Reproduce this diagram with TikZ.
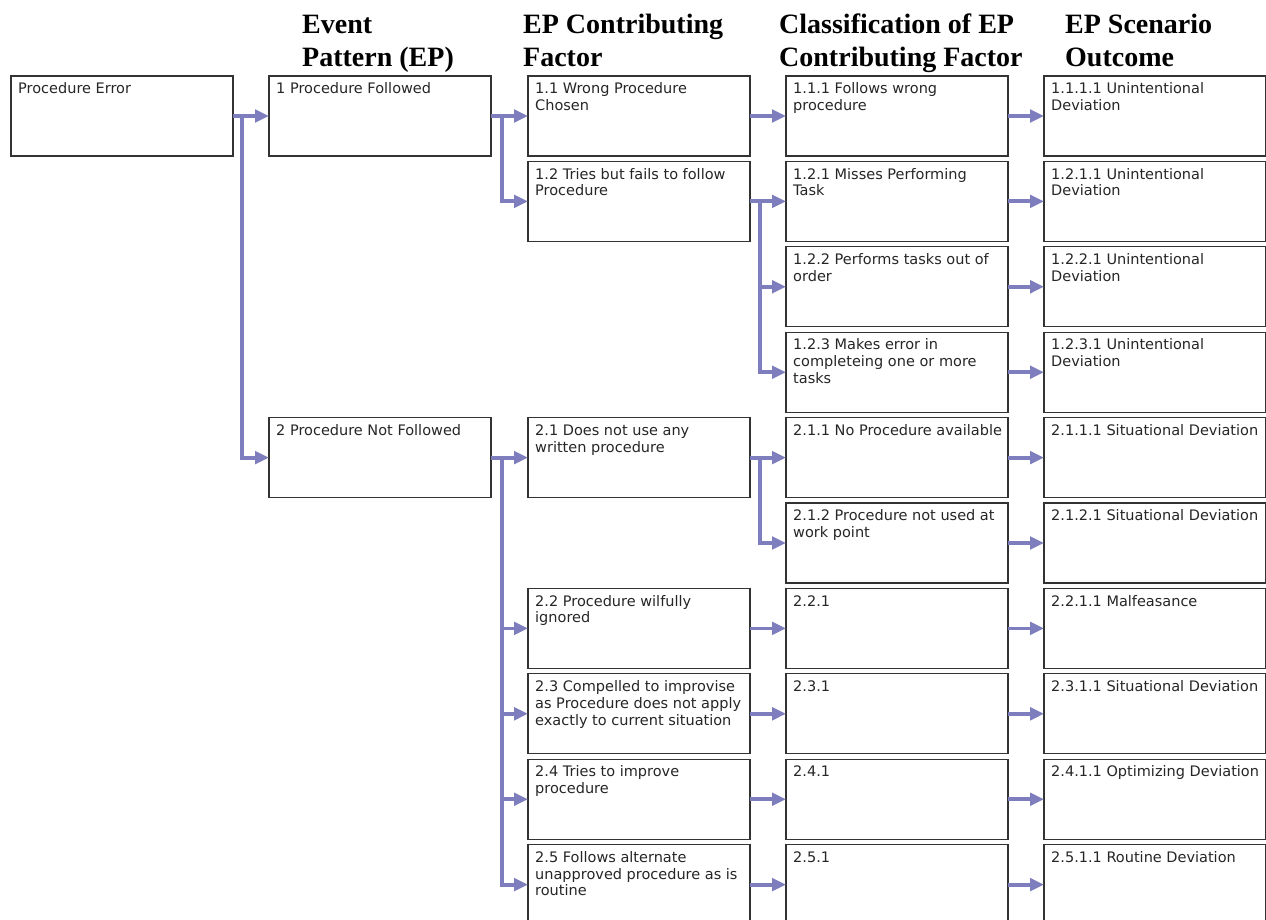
\documentclass[tikz,border=0pt]{standalone}
\usepackage{fontspec}
\setmainfont{Liberation Serif}
\newfontfamily\boxfont{DejaVu Sans}
\usetikzlibrary{arrows.meta}

\definecolor{linkblue}{RGB}{126,126,190}
\definecolor{boxline}{RGB}{51,51,51}
\definecolor{boxtext}{RGB}{38,38,38}

\tikzset{
  box/.style={draw=boxline, line width=1.2pt, fill=white, rectangle,
    minimum width=222pt, minimum height=80pt, inner sep=0pt, outer sep=0pt,
    anchor=north west},
  boxlabel/.style={anchor=north west, inner sep=0pt, align=left,
    font=\boxfont\fontsize{14.5}{16.8}\selectfont, text=boxtext},
  heading/.style={anchor=north west, inner sep=0pt, align=left,
    font=\fontsize{28}{33}\selectfont\bfseries},
  link/.style={draw=linkblue, line width=3.8pt,
    -{Triangle[length=14pt,width=12.5pt]}},
}

% one tree entry: name, left x, top y, text
\newcommand\entry[4]{%
  \node[box] (#1) at (#2,#3) {};
  \node[boxlabel] (#1-text) at ([xshift=7pt,yshift=-6.5pt]#1.north west)
    {\rule{0pt}{11pt}#4};
}

\begin{document}
\begin{tikzpicture}[x=1pt,y=-1pt]
\path[use as bounding box] (0,0) rectangle (1266,920);
\clip (0,0) rectangle (1266,920);

% column headings
\node[heading] (hEP)  at (302,13)  {\rule{0pt}{20pt}Event\\Pattern (EP)};
\node[heading] (hCF)  at (523,13)  {\rule{0pt}{20pt}EP Contributing\\Factor};
\node[heading] (hCL)  at (779,13)  {\rule{0pt}{20pt}Classification of EP\\Contributing Factor};
\node[heading] (hOUT) at (1065,13) {\rule{0pt}{20pt}EP Scenario\\Outcome};

% root and event patterns
\entry{a0}{11}{76}{Procedure Error}
\entry{b0}{269}{76}{1 Procedure Followed}
\entry{b4}{269}{417.6}{2 Procedure Not Followed}

% contributing factors
\entry{c0}{528}{76}{1.1 Wrong Procedure\\Chosen}
\entry{c1}{528}{161.4}{1.2 Tries but fails to follow\\Procedure}
\entry{c4}{528}{417.6}{2.1 Does not use any\\written procedure}
\entry{c6}{528}{588.4}{2.2 Procedure wilfully\\ignored}
\entry{c7}{528}{673.8}{2.3 Compelled to improvise\\as Procedure does not apply\\exactly to current situation}
\entry{c8}{528}{759.2}{2.4 Tries to improve\\procedure}
\entry{c9}{528}{844.6}{2.5 Follows alternate\\unapproved procedure as is\\routine}

% classification of contributing factors
\entry{d0}{786}{76}{1.1.1 Follows wrong\\procedure}
\entry{d1}{786}{161.4}{1.2.1 Misses Performing\\Task}
\entry{d2}{786}{246.8}{1.2.2 Performs tasks out of\\order}
\entry{d3}{786}{332.2}{1.2.3 Makes error in\\completeing one or more\\tasks}
\entry{d4}{786}{417.6}{2.1.1 No Procedure available}
\entry{d5}{786}{503}{2.1.2 Procedure not used at\\work point}
\entry{d6}{786}{588.4}{2.2.1}
\entry{d7}{786}{673.8}{2.3.1}
\entry{d8}{786}{759.2}{2.4.1}
\entry{d9}{786}{844.6}{2.5.1}

% scenario outcomes
\entry{e0}{1044}{76}{1.1.1.1 Unintentional\\Deviation}
\entry{e1}{1044}{161.4}{1.2.1.1 Unintentional\\Deviation}
\entry{e2}{1044}{246.8}{1.2.2.1 Unintentional\\Deviation}
\entry{e3}{1044}{332.2}{1.2.3.1 Unintentional\\Deviation}
\entry{e4}{1044}{417.6}{2.1.1.1 Situational Deviation}
\entry{e5}{1044}{503}{2.1.2.1 Situational Deviation}
\entry{e6}{1044}{588.4}{2.2.1.1 Malfeasance}
\entry{e7}{1044}{673.8}{2.3.1.1 Situational Deviation}
\entry{e8}{1044}{759.2}{2.4.1.1 Optimizing Deviation}
\entry{e9}{1044}{844.6}{2.5.1.1 Routine Deviation}

% branching columns
\coordinate (j0) at (242,0);
\coordinate (j1) at (502,0);
\coordinate (j2) at (760,0);

% root -> event patterns
\draw[link] (a0.east) -- (b0.west);
\draw[link] (a0.east -| j0) |- (b4.west);

% event patterns -> contributing factors
\draw[link] (b0.east) -- (c0.west);
\draw[link] (b0.east -| j1) |- (c1.west);
\draw[link] (b4.east) -- (c4.west);
\foreach \r in {6,7,8,9}
  \draw[link] (b4.east -| j1) |- (c\r.west);

% contributing factors -> classification
\draw[link] (c0.east) -- (d0.west);
\draw[link] (c1.east) -- (d1.west);
\draw[link] (c1.east -| j2) |- (d2.west);
\draw[link] (c1.east -| j2) |- (d3.west);
\draw[link] (c4.east) -- (d4.west);
\draw[link] (c4.east -| j2) |- (d5.west);
\foreach \r in {6,7,8,9}
  \draw[link] (c\r.east) -- (d\r.west);

% classification -> outcomes
\foreach \r in {0,...,9}
  \draw[link] (d\r.east) -- (e\r.west);
\end{tikzpicture}
\end{document}
